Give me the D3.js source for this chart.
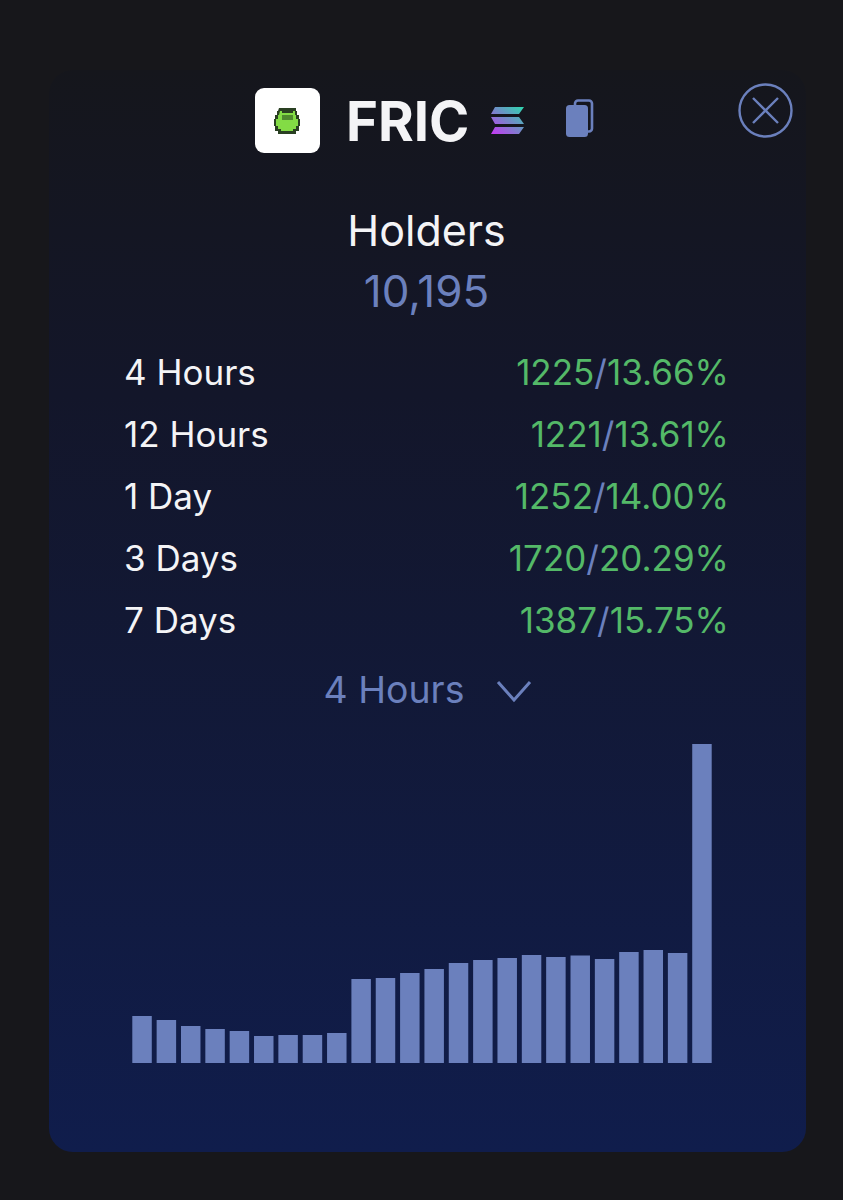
<!DOCTYPE html>
<html>
<head>
<meta charset="utf-8">
<script src="https://cdn.jsdelivr.net/npm/d3@7"></script>
<style>
  html, body { margin: 0; padding: 0; background: #17171b; }
  svg { display: block; }
  text { font-family: Inter, "Noto Sans", sans-serif; }
</style>
</head>
<body>
<div id="container"></div>
<script>
// data
const periods = ["4 Hours", "12 Hours", "1 Day", "3 Days", "7 Days"];
const changes = [1225, 1221, 1252, 1720, 1387];
const percents = ["13.66%", "13.61%", "14.00%", "20.29%", "15.75%"];
const rowY = [384.5, 446.5, 508.5, 570.5, 632.5];

const buckets = d3.range(24);
const barValues = [47, 43, 37, 34, 32, 27, 28, 28, 30, 84, 85, 90, 94, 100, 103, 105, 108, 106, 107.5, 104, 111, 113, 110, 319];

const width = 843, height = 1200;
const blue = "#6b80bd", green = "#54b968", white = "#f4f4f6";

const svg = d3.select("#container").append("svg")
  .attr("width", width)
  .attr("height", height);

const defs = svg.append("defs");

const cardGrad = defs.append("linearGradient")
  .attr("id", "card").attr("x1", 0).attr("x2", 0).attr("y1", 0).attr("y2", 1);
cardGrad.append("stop").attr("offset", 0).attr("stop-color", "#15161c");
cardGrad.append("stop").attr("offset", 0.3).attr("stop-color", "#13162a");
cardGrad.append("stop").attr("offset", 1).attr("stop-color", "#101d4c");

const solGrad = defs.append("linearGradient")
  .attr("id", "sol").attr("gradientUnits", "userSpaceOnUse")
  .attr("x1", 520).attr("x2", 496).attr("y1", 105).attr("y2", 136);
solGrad.append("stop").attr("offset", 0).attr("stop-color", "#2fd6b0");
solGrad.append("stop").attr("offset", 0.5).attr("stop-color", "#7488c8");
solGrad.append("stop").attr("offset", 1).attr("stop-color", "#c23cf2");

defs.append("filter").attr("id", "soft")
  .append("feGaussianBlur").attr("stdDeviation", 0.7);

// card
svg.append("rect")
  .attr("x", 49).attr("y", 70)
  .attr("width", 757).attr("height", 1082)
  .attr("rx", 24)
  .attr("fill", "url(#card)");

// token logo
svg.append("rect")
  .attr("x", 255).attr("y", 88)
  .attr("width", 65).attr("height", 65)
  .attr("rx", 9)
  .attr("fill", "#ffffff");

const frog = svg.append("g").attr("filter", "url(#soft)");
frog.append("path")
  .attr("d", "M279,108h17v3h1v4h2v4h1v7h-1v5h-3v3h-18v-3h-3v-5h-1v-7h1v-4h2v-4h1z")
  .attr("fill", "#2c3f22");
frog.append("path")
  .attr("d", "M280,111h2v2h11v-2h2v4h1v4h2v7h-2v3h-3v2h-12v-2h-3v-3h-2v-7h2v-4h1z")
  .attr("fill", "#83dc45");
frog.append("path")
  .attr("d", "M282,115h11v5h-11z")
  .attr("fill", "#4f8a2f");

svg.append("text")
  .attr("x", 346).attr("y", 140.5)
  .attr("font-size", 54.5).attr("font-weight", 700)
  .attr("fill", white)
  .text("FRIC");

// solana mark
svg.append("path")
  .attr("d", "M495,107h29l-5,7h-28z M491,117h28l5,7h-29z M495,127h29l-5,7h-28z")
  .attr("fill", "url(#sol)");

// copy icon
svg.append("rect")
  .attr("x", 575).attr("y", 100.5)
  .attr("width", 17).attr("height", 31)
  .attr("rx", 3)
  .attr("fill", "none").attr("stroke", blue).attr("stroke-width", 2.6);
svg.append("rect")
  .attr("x", 566).attr("y", 105)
  .attr("width", 22).attr("height", 32)
  .attr("rx", 3.5)
  .attr("fill", blue);

// close button
svg.append("circle")
  .attr("cx", 765.5).attr("cy", 110.5).attr("r", 26)
  .attr("fill", "none").attr("stroke", blue).attr("stroke-width", 2.4);
svg.append("path")
  .attr("d", "M753,98L778,123M778,98L753,123")
  .attr("fill", "none").attr("stroke", blue).attr("stroke-width", 2.4);

// heading
svg.append("text")
  .attr("x", 426.5).attr("y", 246)
  .attr("text-anchor", "middle")
  .attr("font-size", 43)
  .attr("fill", white)
  .text("Holders");

svg.append("text")
  .attr("x", 426.5).attr("y", 306.5)
  .attr("text-anchor", "middle")
  .attr("font-size", 44)
  .attr("fill", blue)
  .text("10,195");

// rows
const rows = svg.append("g").selectAll("g")
  .data(periods)
  .join("g");

rows.append("text")
  .attr("x", 124)
  .attr("y", (d, i) => rowY[i])
  .attr("font-size", 35)
  .attr("fill", white)
  .text(d => d);

const vals = rows.append("text")
  .attr("x", 729)
  .attr("y", (d, i) => rowY[i])
  .attr("text-anchor", "end")
  .attr("font-size", 35);
vals.append("tspan").attr("fill", green).text((d, i) => changes[i]);
vals.append("tspan").attr("fill", blue).text("/");
vals.append("tspan").attr("fill", green).text((d, i) => percents[i]);

// period picker
svg.append("text")
  .attr("x", 394).attr("y", 703)
  .attr("text-anchor", "middle")
  .attr("font-size", 37.4)
  .attr("fill", blue)
  .text("4 Hours");
svg.append("path")
  .attr("d", "M498,682L514,700L530,682")
  .attr("fill", "none").attr("stroke", blue).attr("stroke-width", 3);

// bars
const x = d3.scaleBand()
  .domain(buckets)
  .range([132.3, 711.7])
  .paddingInner(0.2);

const y = d3.scaleLinear()
  .domain([0, d3.max(barValues)])
  .range([1063, 744]);

svg.append("g")
  .selectAll("rect")
  .data(barValues)
  .join("rect")
  .attr("x", (d, i) => x(i))
  .attr("y", d => y(d))
  .attr("width", x.bandwidth())
  .attr("height", d => y(0) - y(d))
  .attr("fill", "#6b80bd");
</script>
</body>
</html>
